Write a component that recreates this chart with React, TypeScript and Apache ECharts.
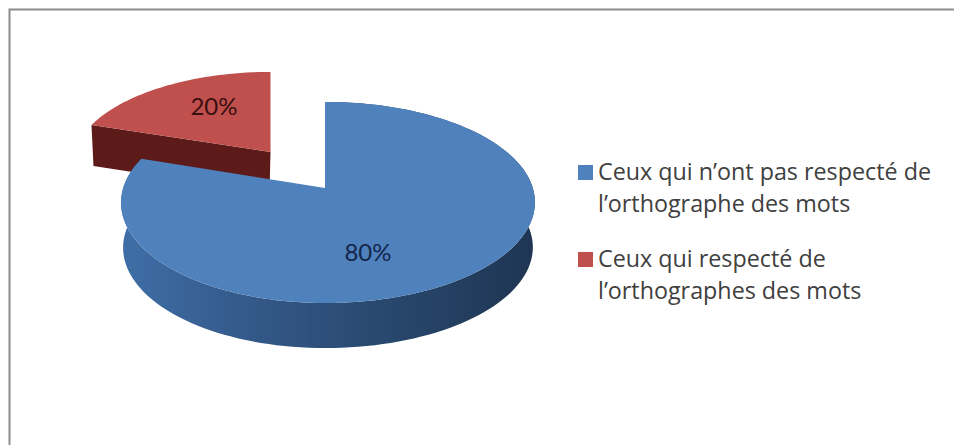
import React, { useEffect, useRef } from "react";
import * as echarts from "echarts";

const sliceNames = [
  "Ceux qui n’ont pas respecté de\nl’orthographe des mots",
  "Ceux qui respecté de\nl’orthographes des mots",
];
const sliceValues = [80, 20];
const sliceLabels = ["80%", "20%"];

const LABEL_FONT = "Lato";
const LEGEND_FONT = "Open Sans";
const total = sliceValues.reduce((a, b) => a + b, 0);
const P = 0.144;

// Projects a point of the unit disc on the tilted pie, seen in perspective.
function project(theta: number, r: number, o: any, dy = 0, widthScale = 1) {
  const X = r * Math.sin(theta);
  const Y = r * Math.cos(theta);
  const d = 1 + P * Y;
  return [
    o.cx + (o.sx * widthScale * 204.8 * X) / d + o.lean * Math.abs(X),
    o.cy - (o.sy * 98.5 * Y) / d + dy,
  ];
}

function arcPoints(a0: number, a1: number, o: any, dy = 0, widthScale = 1) {
  const pts: number[][] = [];
  const n = Math.max(8, Math.round(((a1 - a0) / (Math.PI * 2)) * 180));
  for (let i = 0; i <= n; i++) {
    pts.push(project(a0 + ((a1 - a0) * i) / n, 1, o, dy, widthScale));
  }
  return pts;
}

const blueLayout = { cx: 325, cy: 188, sx: 1, sy: 1, lean: 3, depth: 45 };
const redLayout = { cx: 270.5, cy: 152, sx: 0.96, sy: 0.93, lean: 0, depth: 41 };

function renderSlice(index: number) {
  return (_params: any, api: any) => {
    const value = api.value(0) as number;
    const before = sliceValues.slice(0, index).reduce((a, b) => a + b, 0);
    const a0 = (before / total) * Math.PI * 2;
    const a1 = ((before + value) / total) * Math.PI * 2;
    const top = index === 0 ? "#4F81BD" : "#C0504D";
    const o = index === 0 ? blueLayout : redLayout;
    const arc = arcPoints(a0, a1, o);
    const children: any[] = [];
    if (index === 0) {
      const lower = arcPoints(a0, a1, o, o.depth, 0.99).reverse();
      children.push({
        type: "polygon",
        shape: { points: [...arc, ...lower] },
        style: {
          fill: {
            type: "linear", x: 0, y: 0, x2: 1, y2: 0,
            colorStops: [
              { offset: 0, color: "#3F6EA6" },
              { offset: 0.3, color: "#34598A" },
              { offset: 0.6, color: "#294A70" },
              { offset: 1, color: "#1F3553" },
            ],
          },
        },
      });
    } else {
      const edge = project(a0, 1, o);
      children.push({
        type: "polygon",
        shape: {
          points: [
            [o.cx, o.cy],
            edge,
            [edge[0] + 2, edge[1] + o.depth],
            [o.cx - 1, o.cy + o.depth],
          ],
        },
        style: { fill: "#5C1B19" },
      });
    }
    children.push({
      type: "polygon",
      shape: { points: [[o.cx, o.cy], ...arc] },
      style: { fill: top },
    });
    children.push({
      type: "text",
      style: {
        text: sliceLabels[index],
        x: index === 0 ? 368 : 214,
        y: index === 0 ? 251 : 105,
        align: "center",
        verticalAlign: "middle",
        font: `24px ${LABEL_FONT}`,
        fill: index === 0 ? "#14264A" : "#3A0F0F",
      },
    });
    return { type: "group", children };
  };
}

const legendIcon = "path://M0 0H15M0 10H15V25H0ZM0 64H15";

export default function App() {
  const ref = useRef<HTMLDivElement>(null);
  useEffect(() => {
    const chart = echarts.init(ref.current!, undefined, { renderer: "svg" });
    chart.setOption({
      animation: false,
      backgroundColor: "#FFFFFF",
      color: ["#4F81BD", "#C0504D"],
      legend: {
        orient: "vertical",
        left: 573,
        top: 150,
        itemWidth: 15,
        itemHeight: 64,
        itemGap: 23,
        icon: legendIcon,
        symbolKeepAspect: false,
        selectedMode: false,
        textStyle: {
          fontFamily: LEGEND_FONT,
          fontSize: 23.3,
          lineHeight: 32,
          color: "#404040",
        },
        data: sliceNames,
      },
      graphic: [
        {
          type: "polyline",
          shape: { points: [[9.5, 445], [9.5, 9.5], [954, 9.5]] },
          style: { stroke: "#8C8C8C", lineWidth: 2, fill: "none" },
        },
      ],
      series: [1, 0].map((i) => ({
        type: "custom",
        name: sliceNames[i],
        coordinateSystem: "none",
        renderItem: renderSlice(i),
        itemStyle: { color: i === 0 ? "#4F81BD" : "#C0504D" },
        data: [[sliceValues[i]]],
        silent: true,
      })),
    });
    return () => chart.dispose();
  }, []);
  return (
    <div
      ref={ref}
      style={{ position: "absolute", left: 0, top: 0, width: 954, height: 445 }}
    />
  );
}
